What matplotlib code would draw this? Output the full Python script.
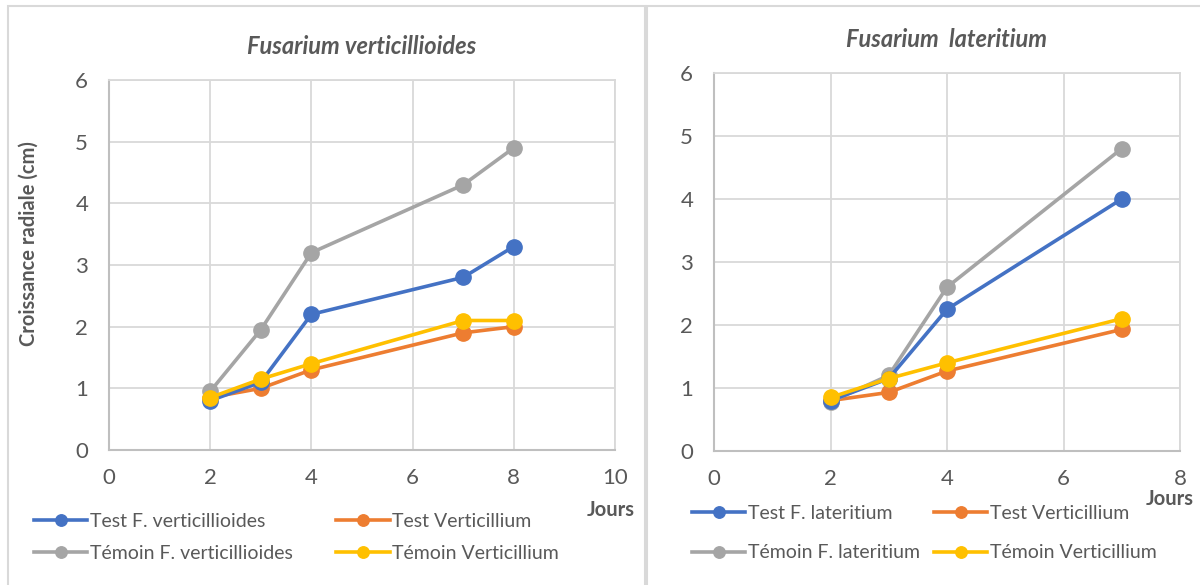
import matplotlib
matplotlib.use("Agg")
import matplotlib.pyplot as plt
from matplotlib.patches import Rectangle

# Days of measurement
jours_fv = [2, 3, 4, 7, 8]
jours_fl = [2, 3, 4, 7]

# Fusarium verticillioides panel (radial growth, cm)
test_fv = [0.8, 1.1, 2.2, 2.8, 3.3]
test_vert_fv = [0.85, 1.0, 1.3, 1.9, 2.0]
temoin_fv = [0.95, 1.95, 3.2, 4.3, 4.9]
temoin_vert_fv = [0.85, 1.15, 1.4, 2.1, 2.1]

# Fusarium lateritium panel (radial growth, cm)
test_fl = [0.8, 1.15, 2.25, 4.0]
test_vert_fl = [0.8, 0.93, 1.27, 1.93]
temoin_fl = [0.78, 1.2, 2.6, 4.8]
temoin_vert_fl = [0.85, 1.15, 1.4, 2.1]

BLUE, ORANGE, GRAY, YELLOW = "#4472C4", "#ED7D31", "#A5A5A5", "#FFC000"
TXT = "#595959"
GRID = "#D9D9D9"

plt.rcParams["font.family"] = ["Lato", "DejaVu Sans"]

W, H = 1200, 585
fig = plt.figure(figsize=(W / 100, H / 100), dpi=100)


def px_axes(x0, y0, x1, y1):
    return fig.add_axes([x0 / W, 1 - y1 / H, (x1 - x0) / W, (y1 - y0) / H])


def panel_border(x0, y0, x1, y1):
    fig.patches.append(Rectangle((x0 / W, 1 - y1 / H), (x1 - x0) / W, (y1 - y0) / H,
                                 transform=fig.transFigure, fill=False,
                                 edgecolor=GRID, linewidth=1.5, zorder=0))


def style_axes(ax, xmax):
    ax.set_xlim(0, xmax)
    ax.set_ylim(0, 6)
    ax.set_xticks(range(0, xmax + 1, 2))
    ax.set_yticks(range(0, 7))
    ax.grid(True, color=GRID, linewidth=1.3)
    ax.set_axisbelow(True)
    for side in ("top", "right"):
        ax.spines[side].set_color(GRID)
        ax.spines[side].set_linewidth(1.3)
    for side in ("left", "bottom"):
        ax.spines[side].set_color("#BFBFBF")
        ax.spines[side].set_linewidth(1.5)
    ax.tick_params(length=0, labelsize=16, labelcolor=TXT)
    ax.tick_params(axis="y", pad=15)
    ax.tick_params(axis="x", pad=13)


def draw(ax, x, series):
    handles = {}
    for vals, color, label in series:
        h, = ax.plot(x, vals, color=color, linewidth=2.6, marker="o",
                     markersize=11, label=label, clip_on=False)
        handles[label] = h
    return handles


def legend(handles, labels, anchor, colsp, rowsp):
    # ncol=2 fills column by column, so pass entries column-wise
    fig.legend([handles[k] for k in labels], labels,
               loc="upper left", bbox_to_anchor=anchor, ncol=2,
               frameon=False, fontsize=14, labelcolor=TXT, handlelength=2.75,
               handletextpad=0.15, columnspacing=colsp, labelspacing=rowsp,
               markerscale=0.75, borderaxespad=0, borderpad=0)


panel_border(8, 6, 645, 600)
panel_border(647, 6, 1210, 600)

# left chart
ax1 = px_axes(109, 80, 615, 450)
style_axes(ax1, 10)
h1 = draw(ax1, jours_fv, [
    (test_vert_fv, ORANGE, "Test Verticillium"),
    (test_fv, BLUE, "Test F. verticillioides"),
    (temoin_fv, GRAY, "Témoin F. verticillioides"),
    (temoin_vert_fv, YELLOW, "Témoin Verticillium"),
])
ax1.set_title("Fusarium verticillioides", fontsize=17, fontweight="bold",
              style="italic", color=TXT, pad=19)
fig.text(29 / W, 1 - 244 / H, "Croissance radiale (cm)", rotation=90,
         ha="center", va="center", fontsize=14.5, fontweight="bold", color=TXT)
fig.text(611 / W, 1 - 510 / H, "Jours", ha="center", va="center",
         fontsize=14.5, fontweight="bold", color=TXT)
legend(h1, ["Test F. verticillioides", "Témoin F. verticillioides",
            "Test Verticillium", "Témoin Verticillium"],
       (34 / W, 1 - 513 / H), 2.2, 0.75)

# right chart
ax2 = px_axes(714, 73, 1180, 451)
style_axes(ax2, 8)
h2 = draw(ax2, jours_fl, [
    (test_vert_fl, ORANGE, "Test Verticillium"),
    (temoin_fl, GRAY, "Témoin F. lateritium"),
    (test_fl, BLUE, "Test F. lateritium"),
    (temoin_vert_fl, YELLOW, "Témoin Verticillium"),
])
ax2.set_title("Fusarium  lateritium", fontsize=17, fontweight="bold",
              style="italic", color=TXT, pad=19)
fig.text(1170 / W, 1 - 499 / H, "Jours", ha="center", va="center",
         fontsize=14.5, fontweight="bold", color=TXT)
legend(h2, ["Test F. lateritium", "Témoin F. lateritium",
            "Test Verticillium", "Témoin Verticillium"],
       (692 / W, 1 - 505 / H), 0.7, 1.15)

fig.savefig("out.png", dpi=100)
